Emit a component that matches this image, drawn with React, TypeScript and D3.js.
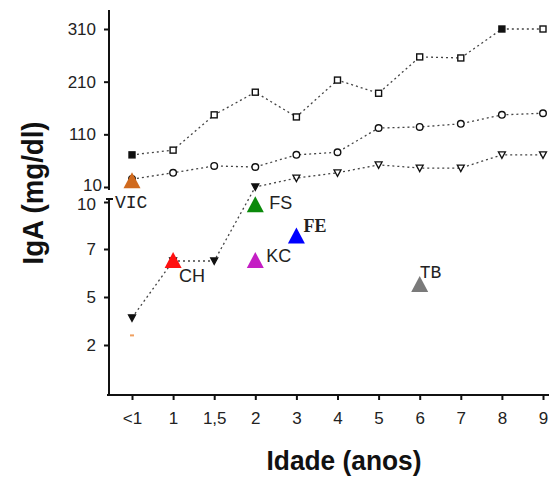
import { useEffect, useRef } from "react";
import * as d3 from "d3";

// ages on the x axis
const ages = ["<1", "1", "1,5", "2", "3", "4", "5", "6", "7", "8", "9"];

// reference curves (mg/dl)
const upperSeries = [71, 80, 147, 190, 143, 213, 188, 257, 255, 310, 310];
const middleSeries = [25, 37, 50, 48, 71, 76, 122, 124, 130, 147, 150];
const lowerSeries = [3.7, 6.5, 6.5, 10, 27, 37, 52, 46, 46, 71, 71];

// broken y axis: upper part linear, lower part with evenly spaced ticks
const upperTicks = [10, 110, 210, 310];
const lowerTicks = [2, 5, 7, 10];

// individual patients
const caseNames = ["VIC", "CH", "FS", "KC", "FE", "TB"];
const caseAges = ["<1", "1", "2", "2", "3", "6"];
const caseValues = [21, 6.5, 9.8, 6.5, 7.8, 5.5];

// small orange mark near the bottom left
const strayAge = "<1";
const strayValue = 2.6;

const caseStyle: Record<string, { color: string; font: string; weight: string; dx: number; dy: number }> = {
  VIC: { color: "#d06a1e", font: "'Liberation Mono', monospace", weight: "normal", dx: -17, dy: 27 },
  CH: { color: "#ff1010", font: "Arial, 'Liberation Sans', sans-serif", weight: "normal", dx: 6, dy: 21 },
  FS: { color: "#0a8a0a", font: "Arial, 'Liberation Sans', sans-serif", weight: "normal", dx: 14, dy: 4 },
  KC: { color: "#c41ec4", font: "Arial, 'Liberation Sans', sans-serif", weight: "normal", dx: 11, dy: 1 },
  FE: { color: "#0000ff", font: "'Liberation Serif', serif", weight: "bold", dx: 7, dy: -4 },
  TB: { color: "#7a7a7a", font: "'Liberation Mono', monospace", weight: "normal", dx: 0, dy: -7 },
};

const W = 549;
const H = 478;

export default function App() {
  const svgRef = useRef<SVGSVGElement>(null);

  useEffect(() => {
    if (!svgRef.current) return;
    const svg = d3.select(svgRef.current);
    svg.selectAll("*").remove();

    const axisX = 109;
    const axisBottom = 395;
    const sans = "Arial, 'Liberation Sans', sans-serif";

    const x = d3.scalePoint<string>().domain(ages).range([132, 543]);
    const yUp = d3.scaleLinear().domain([10, 310]).range([187, 29]);
    const yLo = d3.scaleLinear().domain(lowerTicks).range([345, 297, 249, 202]);
    const y = (v: number) => (v >= 10 ? yUp(v) : yLo(v));

    // y axes
    const styleAxis = (sel: d3.Selection<SVGGElement, unknown, null, undefined>) => {
      sel.select(".domain").remove();
      sel.selectAll(".tick line").attr("stroke", "#111").attr("stroke-width", 2);
      sel
        .selectAll(".tick text")
        .attr("fill", "#222")
        .style("font-family", sans)
        .style("font-size", "17px");
    };

    const gUp = svg
      .append("g")
      .attr("transform", `translate(${axisX},0)`)
      .call(d3.axisLeft(yUp).tickValues(upperTicks).tickSize(5).tickPadding(8).tickSizeOuter(0));
    styleAxis(gUp);
    gUp.selectAll(".tick text")
      .attr("x", (d) => ((d as number) === 10 ? -7 : -13))
      .attr("y", (d) => ((d as number) === 10 ? -2 : 0));

    const gLo = svg
      .append("g")
      .attr("transform", `translate(${axisX},0)`)
      .call(d3.axisLeft(yLo).tickValues(lowerTicks).tickSize(5).tickPadding(8).tickSizeOuter(0));
    styleAxis(gLo);
    gLo.selectAll(".tick text").attr("y", (d) => ((d as number) === 10 ? 2 : 0));

    svg
      .append("line")
      .attr("x1", axisX)
      .attr("x2", axisX)
      .attr("y1", 10)
      .attr("y2", 190)
      .attr("stroke", "#111")
      .attr("stroke-width", 2);
    svg
      .append("line")
      .attr("x1", axisX)
      .attr("x2", axisX)
      .attr("y1", 199)
      .attr("y2", axisBottom)
      .attr("stroke", "#111")
      .attr("stroke-width", 2);
    svg
      .append("line")
      .attr("x1", axisX - 3)
      .attr("x2", axisX + 4)
      .attr("y1", 199)
      .attr("y2", 199)
      .attr("stroke", "#111")
      .attr("stroke-width", 2);

    // x axis
    const gx = svg
      .append("g")
      .attr("transform", `translate(0,${axisBottom})`)
      .call(d3.axisBottom(x).tickSize(5).tickSizeOuter(0));
    gx.select(".domain").remove();
    gx.selectAll(".tick line").attr("stroke", "#111").attr("stroke-width", 2);
    gx.selectAll(".tick text")
      .attr("y", 17)
      .attr("fill", "#222")
      .style("font-family", sans)
      .style("font-size", "17px");
    svg
      .append("line")
      .attr("x1", axisX - 2)
      .attr("x2", W)
      .attr("y1", axisBottom)
      .attr("y2", axisBottom)
      .attr("stroke", "#111")
      .attr("stroke-width", 2);

    // axis titles
    svg
      .append("text")
      .attr("x", 344)
      .attr("y", 470)
      .attr("text-anchor", "middle")
      .attr("textLength", 155)
      .attr("lengthAdjust", "spacingAndGlyphs")
      .style("font-family", sans)
      .style("font-weight", "bold")
      .style("font-size", "28px")
      .attr("fill", "#111")
      .text("Idade (anos)");
    svg
      .append("text")
      .attr("transform", "translate(43,193) rotate(-90)")
      .attr("text-anchor", "middle")
      .attr("textLength", 143)
      .attr("lengthAdjust", "spacingAndGlyphs")
      .style("font-family", sans)
      .style("font-weight", "bold")
      .style("font-size", "29px")
      .attr("fill", "#111")
      .text("IgA (mg/dl)");

    // dotted reference curves
    const line = d3
      .line<number>()
      .x((_, i) => x(ages[i])!)
      .y((d) => y(d));

    [upperSeries, middleSeries, lowerSeries].forEach((s) => {
      svg
        .append("path")
        .datum(s)
        .attr("fill", "none")
        .attr("stroke", "#444")
        .attr("stroke-width", 1.3)
        .attr("stroke-dasharray", "2 3")
        .attr("d", line);
    });

    // series markers
    svg
      .append("g")
      .selectAll("rect")
      .data(upperSeries)
      .join("rect")
      .attr("x", (_, i) => x(ages[i])! - 3)
      .attr("y", (d) => y(d) - 3)
      .attr("width", 6)
      .attr("height", 6)
      .attr("fill", (_, i) => (i === 0 || i === 9 ? "#111" : "#fff"))
      .attr("stroke", "#111")
      .attr("stroke-width", 1.4);

    svg
      .append("g")
      .selectAll("circle")
      .data(middleSeries)
      .join("circle")
      .attr("cx", (_, i) => x(ages[i])!)
      .attr("cy", (d) => y(d))
      .attr("r", 3.3)
      .attr("fill", "#fff")
      .attr("stroke", "#111")
      .attr("stroke-width", 1.4);

    svg
      .append("g")
      .selectAll("path")
      .data(lowerSeries)
      .join("path")
      .attr("transform", (d, i) => `translate(${x(ages[i])},${y(d)})`)
      .attr("d", "M-3.5,-3L3.5,-3L0,3.5Z")
      .attr("fill", (_, i) => (i <= 3 ? "#111" : "#fff"))
      .attr("stroke", "#111")
      .attr("stroke-width", 1.3);

    // stray orange mark
    svg
      .append("rect")
      .attr("x", x(strayAge)! - 2)
      .attr("y", y(strayValue) - 1)
      .attr("width", 4)
      .attr("height", 2)
      .attr("fill", "#f0a060");

    // patient triangles + labels
    const tri = "M0,-9L8.5,7L-8.5,7Z";
    const cases = svg
      .append("g")
      .selectAll("g")
      .data(caseNames)
      .join("g")
      .attr("transform", (d, i) => `translate(${x(caseAges[i])},${y(caseValues[i])})`);
    cases
      .append("path")
      .attr("d", tri)
      .attr("fill", (d) => caseStyle[d].color);
    cases
      .append("text")
      .attr("x", (d) => caseStyle[d].dx)
      .attr("y", (d) => caseStyle[d].dy)
      .style("font-family", (d) => caseStyle[d].font)
      .style("font-weight", (d) => caseStyle[d].weight)
      .style("font-size", "18px")
      .attr("fill", "#222")
      .text((d) => d);
  }, []);

  return (
    <svg
      ref={svgRef}
      width={W}
      height={H}
      style={{ position: "absolute", left: 0, top: 0, background: "#fff" }}
    />
  );
}
